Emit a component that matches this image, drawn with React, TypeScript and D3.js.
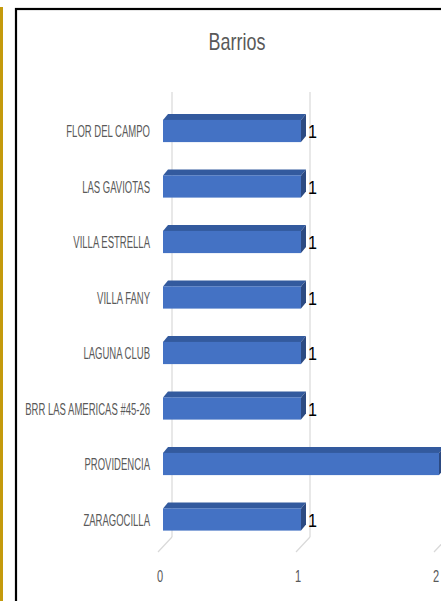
import React from 'react';
import * as d3 from 'd3';

const title = 'Barrios';
const categories = [
  'FLOR DEL CAMPO',
  'LAS GAVIOTAS',
  'VILLA ESTRELLA',
  'VILLA FANY',
  'LAGUNA CLUB',
  'BRR LAS AMERICAS #45-26',
  'PROVIDENCIA',
  'ZARAGOCILLA',
];
const values = [1, 1, 1, 1, 1, 1, 2, 1];
const valueLabels = ['1', '1', '1', '1', '1', '1', '2', '1'];
const xTicks = [0, 1, 2];

export default function App() {
  const W = 441;
  const H = 601;
  const x = d3.scaleLinear().domain([0, 2]).range([163, 439]);
  const y = d3
    .scaleBand<string>()
    .domain(categories)
    .range([103.25, 547.25])
    .paddingInner(0.6)
    .paddingOuter(0.3);
  const bw = y.bandwidth();
  const dx = 5;
  const dy = -6;
  const gridOff = 9;
  const gridTop = 92;
  const gridBottom = 537;
  const labelColor = '#595959';
  const font = 'Liberation Sans, Arial, sans-serif';

  return (
    <svg
      width={W}
      height={H}
      style={{ position: 'absolute', left: 0, top: 0, background: '#fff' }}
    >
      <rect x={0} y={0} width={W} height={H} fill="#fff" />
      <rect x={0} y={7} width={3} height={H - 7} fill="#C49A0C" />
      <rect x={16} y={9} width={W} height={H} fill="#fff" stroke="#000" strokeWidth={2.2} />

      <text
        transform={`translate(237,50) scale(0.78,1)`}
        textAnchor="middle"
        fontFamily={font}
        fontSize={23}
        fill={labelColor}
      >
        {title}
      </text>

      {xTicks.map((t) => {
        const gx = x(t) + gridOff;
        return (
          <g key={t}>
            <line x1={gx} x2={gx} y1={gridTop} y2={gridBottom} stroke="#D9D9D9" strokeWidth={1.2} />
            <line x1={gx} x2={gx - 14} y1={gridBottom} y2={gridBottom + 15} stroke="#D9D9D9" strokeWidth={1.2} />
            <text
              transform={`translate(${gx - 12},582) scale(0.65,1)`}
              textAnchor="middle"
              fontFamily={font}
              fontSize={17}
              fill={labelColor}
            >
              {t}
            </text>
          </g>
        );
      })}

      {categories.map((c, i) => {
        const y0 = y(c)!;
        const x0 = x(0);
        const x1 = x(values[i]);
        const top = `M${x0},${y0} L${x0 + dx},${y0 + dy} L${x1 + dx},${y0 + dy} L${x1},${y0} Z`;
        const side = `M${x1},${y0} L${x1 + dx},${y0 + dy} L${x1 + dx},${y0 + bw + dy} L${x1},${y0 + bw} Z`;
        return (
          <g key={c}>
            <path d={top} fill="#335A9E" />
            <path d={side} fill="#2C4A82" />
            <rect x={x0} y={y0} width={x1 - x0} height={bw} fill="#4472C4" />
            <text
              transform={`translate(150,${y0 + bw / 2 + 6}) scale(0.56,1)`}
              textAnchor="end"
              fontFamily={font}
              fontSize={17}
              fill={labelColor}
            >
              {c}
            </text>
            {values[i] < 2 && (
              <text
                transform={`translate(${x1 + dx + 2},${y0 + bw / 2 + 7}) scale(0.85,1)`}
                fontFamily={font}
                fontSize={19}
                fill="#000"
              >
                {valueLabels[i]}
              </text>
            )}
          </g>
        );
      })}
    </svg>
  );
}
